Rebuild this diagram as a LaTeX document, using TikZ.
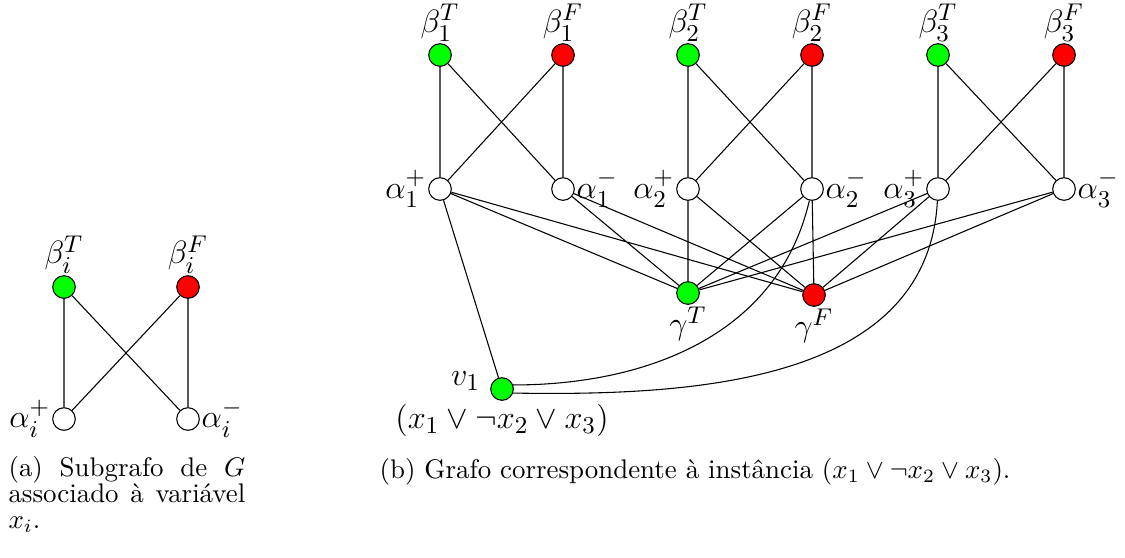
\documentclass[tikz,border=0pt]{standalone}
\usepackage{fontspec}
\usepackage{amsmath}
\begin{document}
\begin{tikzpicture}[x=0.3717pt,y=0.3717pt,
  vtx/.style={circle,draw,minimum size=8.4pt,inner sep=0pt,line width=0.4pt},
  gr/.style={vtx,fill={rgb,255:red,0;green,255;blue,0}},
  rd/.style={vtx,fill={rgb,255:red,255;green,0;blue,0}},
  wh/.style={vtx,fill=white},
  every label/.style={inner sep=0.5pt,font=\fontsize{12.4pt}{14pt}\selectfont},
  edge/.style={line width=0.4pt}]
\useasboundingbox (0,0) rectangle (1125,557);
% ---- (a)
\node[gr,label=above:$\beta_i^T$] (bT) at (64,270) {};
\node[rd,label=above:$\beta_i^F$] (bF) at (188,270) {};
\node[wh,label=left:$\alpha_i^+$] (ap) at (64,138) {};
\node[wh,label=right:$\alpha_i^-$] (am) at (188,138) {};
\draw[edge] (bT)--(ap) (bT)--(am) (bF)--(ap) (bF)--(am);
\node[anchor=north west,text width=88pt,align=justify,inner sep=0pt,font=\fontsize{10pt}{9.6pt}\selectfont] (capa) at (8,101)
 {(a) Subgrafo de $G$ associado à variável $x_i$.};
% ---- (b)
\node[gr,label=above:$\beta_1^T$] (b1T) at (440,502) {};
\node[rd,label=above:$\beta_1^F$] (b1F) at (563,502) {};
\node[gr,label=above:$\beta_2^T$] (b2T) at (688,502) {};
\node[rd,label=above:$\beta_2^F$] (b2F) at (812,502) {};
\node[gr,label=above:$\beta_3^T$] (b3T) at (938,502) {};
\node[rd,label=above:$\beta_3^F$] (b3F) at (1064,502) {};
\node[wh,label=left:$\alpha_1^+$] (a1p) at (440,368) {};
\node[wh,label=right:$\alpha_1^-$] (a1m) at (563,368) {};
\node[wh,label=left:$\alpha_2^+$] (a2p) at (688,368) {};
\node[wh,label=right:$\alpha_2^-$] (a2m) at (812,368) {};
\node[wh,label=left:$\alpha_3^+$] (a3p) at (938,368) {};
\node[wh,label=right:$\alpha_3^-$] (a3m) at (1064,368) {};
\node[gr,label=below:$\gamma^T$] (gT) at (688,264) {};
\node[rd,label=below:$\gamma^F$] (gF) at (814,262) {};
\node[gr,label={[yshift=3pt,xshift=-3pt]left:$v_1$},label={[inner sep=1pt]below:$(x_1 \lor \neg x_2 \lor x_3)$}] (v1) at (502,168) {};
\foreach \i in {1,2,3}{
  \draw[edge] (b\i T)--(a\i p) (b\i T)--(a\i m) (b\i F)--(a\i p) (b\i F)--(a\i m);
  \draw[edge] (a\i p)--(gT) (a\i p)--(gF) (a\i m)--(gT) (a\i m)--(gF);
}
\draw[edge] (a1p)--(v1);
\draw[edge] (v1.20) to[out=0,in=-103] (a2m);
\draw[edge] (v1.-20) to[out=-1,in=-93] (a3p);
\node[font=\fontsize{10pt}{12pt}\selectfont,inner sep=0pt] (capb) at (695,85)
 {(b) Grafo correspondente à instância $(x_1 \lor \neg x_2 \lor x_3)$.};
\end{tikzpicture}
\end{document}
